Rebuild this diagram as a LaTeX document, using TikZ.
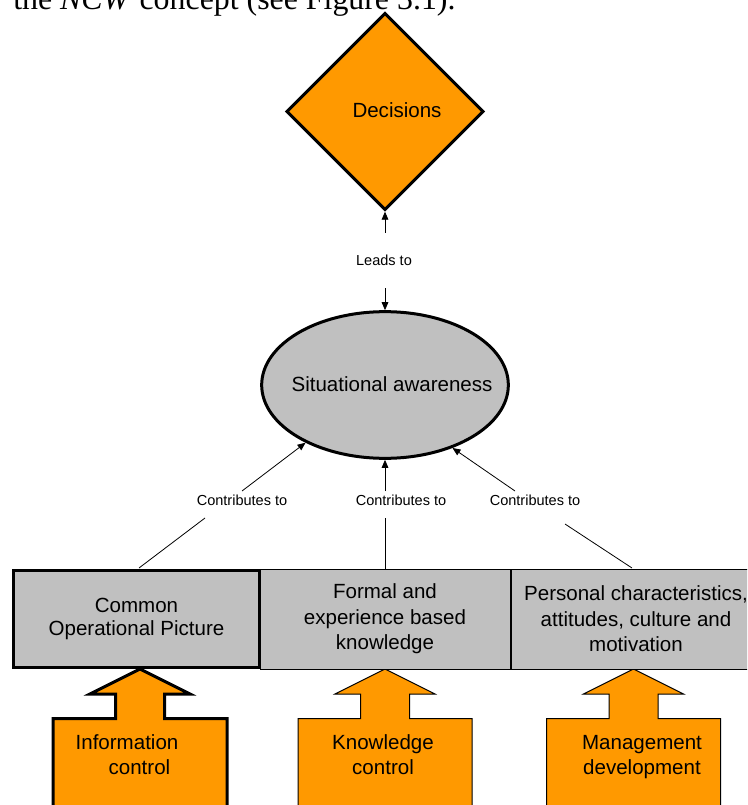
\documentclass[tikz,border=0pt]{standalone}
\usepackage{fontspec}
\setmainfont{Liberation Sans}
\newfontfamily\bodyserif{Liberation Serif}
\usetikzlibrary{shapes.geometric,arrows.meta}
\definecolor{amber}{HTML}{FF9900}
\definecolor{panelgray}{HTML}{C0C0C0}
\begin{document}
\begin{tikzpicture}[x=0.75pt,y=-0.75pt,
  heavy/.style={line width=2.25pt},
  light/.style={line width=0.75pt},
  bigtext/.style={font=\fontsize{15.4}{18.75}\selectfont, inner sep=0pt, align=center},
  smalltext/.style={font=\fontsize{10.9}{13}\selectfont, inner sep=0pt},
  link/.style={line width=0.6pt},
  tipped/.style={link, -{Triangle[length=6pt,width=5pt]}},
  panel/.style={rectangle, draw, fill=panelgray, inner sep=0pt, align=center,
                minimum height=75pt},
  lift/.pic={\draw[pic actions] (0,0) -- (50,25) -- (24.5,25) -- (24.5,49.5)
             -- (87,49.5) -- (87,160) -- (-87,160) -- (-87,49.5) -- (-24.5,49.5)
             -- (-24.5,25) -- (-50,25) -- cycle;}
]
\useasboundingbox (0,0) rectangle (747,805);
\clip (0,0) rectangle (747,805);

% running text above the figure
\node[anchor=base west, inner sep=0pt, font=\bodyserif\fontsize{23.9}{28}\selectfont]
  (caption) at (13,9.5) {the \textit{NCW} concept (see Figure 3.1).};

% decision diamond and awareness ellipse
\node[diamond, draw, heavy, fill=amber, minimum width=148pt, minimum height=148pt,
      inner sep=0pt] (dec) at (385,111.5) {};
\node[bigtext] (dectext) at (397,110.5) {Decisions};

\node[ellipse, draw, heavy, fill=panelgray, minimum width=185pt, minimum height=110pt,
      inner sep=0pt] (sa) at (385,385) {};
\node[bigtext] (satext) at (392,384.5) {Situational awareness};

% block arrows feeding the three factors
\pic[draw, fill=amber, heavy] at (140,669) {lift};
\pic[draw, fill=amber, light] at (385,669) {lift};
\pic[draw, fill=amber, light] at (633.5,669) {lift};

\node[bigtext, align=left] (infotext) at (127,755) {Information\\\hspace*{24.75pt}control};
\node[bigtext] (knowtext) at (383,755) {Knowledge\\control};
\node[bigtext] (mgmttext) at (642,757) {Management\\development};

% the three contributing factors
\node[panel, light, minimum width=187.5pt, font=\fontsize{15.4}{19.1}\selectfont]
  (know) at (385,619) {Formal and\\experience based\\knowledge};
\node[panel, light, minimum width=187.5pt, font=\fontsize{15.4}{19.1}\selectfont]
  (pers) at (636,619) {Personal characteristics,\\attitudes, culture and\\motivation};
\node[panel, heavy, minimum width=184.5pt, minimum height=72.75pt,
      font=\fontsize{15.4}{17.6}\selectfont]
  (cop) at (136.5,619) {Common\\Operational Picture};

% connectors with their labels
\coordinate (leadA) at (385,233);
\coordinate (leadB) at (385,288);
\draw[tipped] (leadA) -- (dec.south);
\node[smalltext] (leads) at (384,260) {Leads to};
\draw[tipped] (leadB) -- (sa.north);

\coordinate (copTop) at (139,568);
\coordinate (copGapA) at (205,518);
\coordinate (copGapB) at (242,491);
\draw[link] (copTop) -- (copGapA);
\draw[tipped] (copGapB) -- (sa.216);
\node[smalltext] (contribL) at (242,500) {Contributes to};

\coordinate (knowGapA) at (385,518);
\coordinate (knowGapB) at (385,491);
\draw[link] (know.north) -- (knowGapA);
\draw[tipped] (knowGapB) -- (sa.south);
\node[smalltext] (contribM) at (401,500) {Contributes to};

\coordinate (persTop) at (632,568);
\coordinate (persGapA) at (565,524);
\coordinate (persGapB) at (515,491);
\draw[link] (persTop) -- (persGapA);
\draw[tipped] (persGapB) -- (sa.317);
\node[smalltext] (contribR) at (535,500) {Contributes to};
\end{tikzpicture}
\end{document}
